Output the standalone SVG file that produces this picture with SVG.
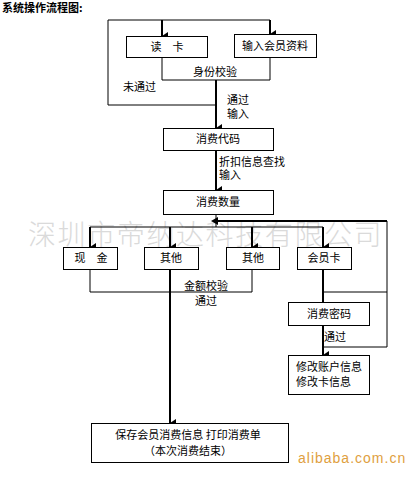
<svg xmlns="http://www.w3.org/2000/svg" width="415" height="477" viewBox="0 0 415 477">
<style>
text{font-family:"Noto Sans CJK SC","Noto Sans",sans-serif;font-size:11px;fill:#000}
.c{text-anchor:middle}
.box{fill:#fff;stroke:#000;stroke-width:1}
.ln{fill:none;stroke:#000;stroke-width:1}
.ar{fill:none;stroke:#000;stroke-width:2}
.wm{font-size:28px;fill:#dadada;font-weight:300;letter-spacing:1.6px}
</style>
<defs>
<marker id="ah" markerUnits="userSpaceOnUse" markerWidth="8" markerHeight="8" refX="4" refY="7" orient="auto-start-reverse" viewBox="0 0 8 8">
<path d="M0,1 L8,1 L4,7 Z" fill="#000"/>
</marker>
<marker id="al" markerUnits="userSpaceOnUse" markerWidth="8" markerHeight="8" refX="7" refY="4" viewBox="0 0 8 8" orient="0">
<path d="M8,0 L8,8 L1,4 Z" fill="#000"/>
</marker>
</defs>
<rect width="415" height="477" fill="#fff"/>
<text class="wm" x="28" y="245">深圳市帝纳达科技有限公司</text>
<text x="2" y="12" style="font-weight:bold;font-size:11px">系统操作流程图:</text>
<g id="connectors">
<polyline class="ln" points="216,105 108,105 108,20 270,20"/>
<line class="ar" x1="162" y1="20" x2="162" y2="36" marker-end="url(#ah)"/>
<line class="ar" x1="270" y1="20" x2="270" y2="34" marker-end="url(#ah)"/>
<polyline class="ln" points="162,57 162,80 270,80 270,57"/>
<line class="ar" x1="216" y1="80" x2="216" y2="128" marker-end="url(#ah)"/>
<line class="ar" x1="216" y1="150" x2="216" y2="190" marker-end="url(#ah)"/>
<line class="ln" x1="216" y1="214" x2="216" y2="227"/>
<line class="ln" x1="90" y1="227" x2="323" y2="227"/>
<line class="ar" x1="90" y1="227" x2="90" y2="247" marker-end="url(#ah)"/>
<line class="ar" x1="170" y1="227" x2="170" y2="247" marker-end="url(#ah)"/>
<line class="ar" x1="252" y1="227" x2="252" y2="247" marker-end="url(#ah)"/>
<line class="ar" x1="323" y1="227" x2="323" y2="247" marker-end="url(#ah)"/>
<polyline class="ln" points="90,269 90,292 252,292 252,269"/>
<line class="ar" x1="170" y1="269" x2="170" y2="423" marker-end="url(#ah)"/>
<line class="ar" x1="323" y1="269" x2="323" y2="302"/>
<line class="ar" x1="323" y1="325" x2="323" y2="355" marker-end="url(#ah)"/>
<line class="ln" x1="323" y1="292" x2="387" y2="292"/>
<polyline class="ln" points="323,347 387,347 387,221"/>
<line class="ar" x1="387" y1="221" x2="217" y2="221" marker-end="url(#al)"/>
</g>
<g id="n-duka"><rect class="box" x="126.5" y="36.5" width="81" height="21"/><text class="c" x="167" y="51">读　卡</text></g>
<g id="n-input"><rect class="box" x="234.5" y="34.5" width="82" height="23"/><text class="c" x="275" y="50">输入会员资料</text></g>
<text x="193" y="76">身份校验</text>
<text x="123" y="91">未通过</text>
<text x="227" y="104">通过</text>
<text x="227" y="118">输入</text>
<g id="n-code"><rect class="box" x="163.5" y="128.5" width="110" height="22"/><text class="c" x="218" y="143">消费代码</text></g>
<text x="219" y="166">折扣信息查找</text>
<text x="219" y="179">输入</text>
<g id="n-qty"><rect class="box" x="163.5" y="190.5" width="110" height="24"/><text class="c" x="218" y="206">消费数量</text></g>
<g id="n-cash"><rect class="box" x="63.5" y="247.5" width="54" height="22"/><text class="c" x="91" y="262">现　金</text></g>
<g id="n-other1"><rect class="box" x="144.5" y="247.5" width="54" height="22"/><text class="c" x="171" y="262">其他</text></g>
<g id="n-other2"><rect class="box" x="226.5" y="247.5" width="53" height="22"/><text class="c" x="253" y="262">其他</text></g>
<g id="n-card"><rect class="box" x="297.5" y="247.5" width="54" height="22"/><text class="c" x="324" y="262">会员卡</text></g>
<text x="184" y="290">金额校验</text>
<text x="195" y="305">通过</text>
<g id="n-pwd"><rect class="box" x="288.5" y="302.5" width="81" height="23"/><text class="c" x="329" y="318">消费密码</text></g>
<text x="324" y="341">通过</text>
<g id="n-modify"><rect class="box" x="288.5" y="355.5" width="81" height="39"/><text x="296" y="371">修改账户信息</text><text x="296" y="386">修改卡信息</text></g>
<g id="n-save"><rect class="box" x="91.5" y="423.5" width="197" height="39"/><text class="c" x="188" y="439">保存会员消费信息 打印消费单</text><text class="c" x="188" y="455">（本次消费结束）</text></g>
<text x="298" y="463" style="font-family:'Liberation Sans',sans-serif;font-size:14px;fill:#e0a040;letter-spacing:1px">alibaba.com.cn</text>
</svg>
